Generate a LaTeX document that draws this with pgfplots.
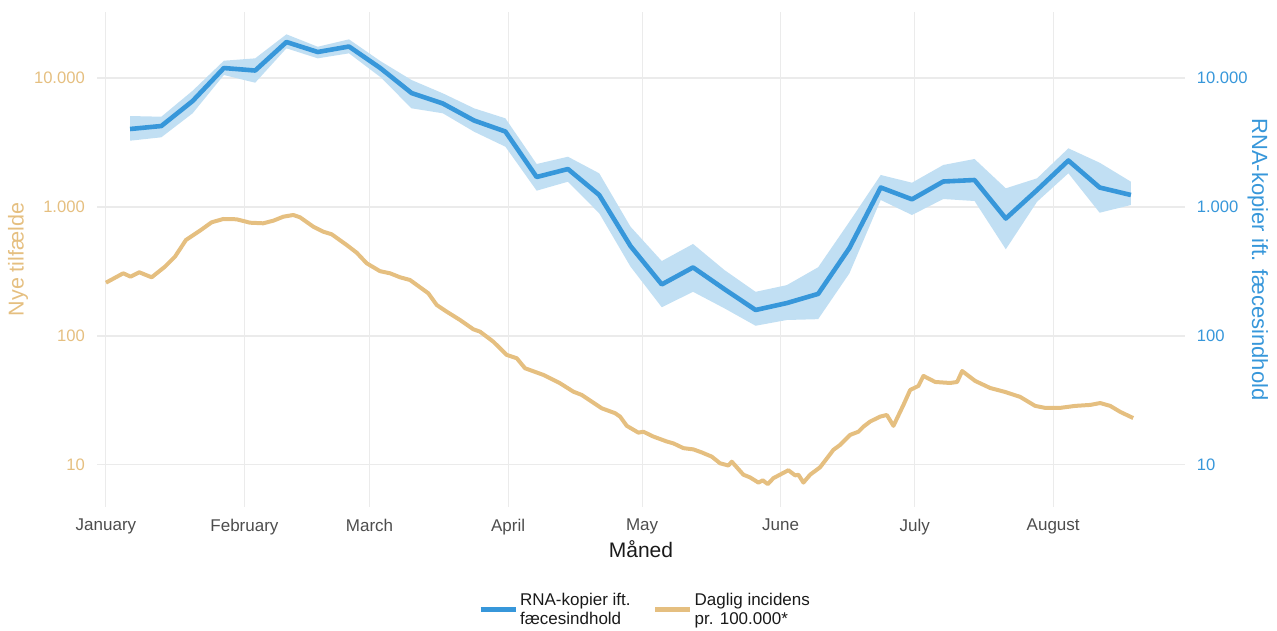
\documentclass[border=0pt]{standalone}
\usepackage{fontspec}
\setmainfont{Liberation Sans}
\usepackage{pgfplots}
\pgfplotsset{compat=1.18}
\usepackage{pgfplotstable}

\definecolor{orangeC}{HTML}{E5BF80}
\definecolor{blueC}{HTML}{3797DA}
\definecolor{bandC}{HTML}{C1DFF3}
\definecolor{gridC}{HTML}{EBEBEB}
\definecolor{tickgray}{HTML}{4D4D4D}
\definecolor{legtext}{HTML}{1A1A1A}

% RNA copies: weekly values
\pgfplotstableread{
day mid
5.4 4024
12.4 4245
19.4 6632
26.4 11952
33.4 11431
40.4 19020
47.4 15910
54.4 17550
61.4 11952
68.4 7650
75.4 6343
82.4 4683
89.4 3848
96.4 1708
103.4 1970
110.4 1239
117.4 498
124.4 251
131.4 340
138.4 231
145.4 159
152.4 180
159.4 212
166.4 481
173.4 1416
180.4 1147
187.4 1576
194.4 1619
201.4 814
208.4 1354
215.4 2293
222.4 1416
229.4 1239
}\rnadata

% band outline: upper bound forward, lower bound backward
\pgfplotstableread{
day band
5.4 5074
12.4 5012
19.4 7973
26.4 13620
33.4 14210
40.4 21820
47.4 17480
54.4 19950
61.4 13550
68.4 9650
75.4 7610
82.4 5823
89.4 4870
96.4 2154
103.4 2454
110.4 1825
117.4 704
124.4 381
131.4 517
138.4 325
145.4 220
152.4 248
159.4 341
166.4 769
173.4 1771
180.4 1543
187.4 2117
194.4 2356
201.4 1396
208.4 1669
215.4 2851
222.4 2205
229.4 1571
229.4 1036
222.4 903
215.4 1825
208.4 1099
201.4 470
194.4 1113
187.4 1153
180.4 867
173.4 1133
166.4 306
159.4 135
152.4 133
145.4 120
138.4 164
131.4 220
124.4 167
117.4 345
110.4 894
103.4 1571
96.4 1338
89.4 2934
82.4 3834
75.4 5326
68.4 5823
61.4 10180
54.4 15540
47.4 14210
40.4 16990
33.4 9197
26.4 10550
19.4 5326
12.4 3470
5.4 3266
}\banddata

\pgfplotstableread{
day val
0 258.9
3.87 306.2
5.53 288.2
7.45 311.8
10.23 285.1
13.21 344.5
15.45 411.8
17.91 554.9
21.04 655.1
23.66 761.0
26.26 807.2
29.26 802.9
32.24 755.6
35.21 747.5
37.45 783.1
39.69 841.0
41.93 867.0
43.43 832.1
46.41 703.7
48.65 643.5
50.53 614.3
53.88 507.4
56.12 442.3
58.36 366.1
61.34 318.0
63.58 306.2
65.82 285.1
68.05 271.7
72.15 214.3
74.03 173.9
76.27 154.3
79.25 133.0
82.23 112.7
83.73 108.0
86.70 90.3
89.70 71.3
91.94 67.2
93.80 56.2
97.90 49.9
101.63 43.0
104.61 37.0
106.49 34.9
110.97 27.5
113.95 25.2
115.07 23.7
116.57 20.1
119.17 17.8
120.28 18.1
122.52 16.6
125.52 15.2
127.0 14.7
129.24 13.5
131.48 13.2
133.36 12.5
135.59 11.6
137.45 10.3
139.31 9.9
140.07 10.6
142.67 8.4
144.17 8.0
146.03 7.3
147.01 7.6
148.13 7.1
149.38 7.9
152.74 9.1
154.24 8.3
154.98 8.4
156.10 7.3
157.60 8.4
159.84 9.6
162.82 13.1
164.32 14.3
166.55 17.1
168.41 18.1
169.53 19.8
171.03 21.7
173.27 23.7
174.77 24.4
176.25 20.1
178.49 29.2
179.99 38.1
181.84 41.0
182.96 49.0
185.58 44.0
188.94 43.2
190.51 44.0
191.63 53.5
194.54 44.8
197.90 39.5
201.25 36.8
204.61 33.7
207.97 28.7
210.21 27.7
213.57 27.7
216.93 28.7
220.28 29.2
222.52 30.2
224.76 28.7
227.0 25.8
229.91 23.1
}\incdata

\begin{document}
\begin{tikzpicture}
\path (-97pt,-123pt) rectangle (1180pt,507pt);
\begin{axis}[
  at={(0pt,0pt)}, anchor=south west,
  scale only axis, width=1088pt, height=495pt,
  xmin=-2, xmax=241.5,
  ymode=log, ymin=4.72, ymax=32500,
  axis line style={draw=none},
  major tick length=0pt, minor tick length=0pt, yminorticks=false,
  xtick={0,31,59,90,120,151,181,212},
  xticklabels={January,February,March,April,May,June,July,August},
  ytick={10,100,1000,10000},
  yticklabels={10,100,1.000,10.000},
  grid=major,
  major grid style={color=gridC, line width=1.1pt},
  xticklabel style={font=\fontsize{17}{20}\selectfont, text=tickgray, anchor=north, inner sep=0pt, yshift=-11.5pt},
  yticklabel style={font=\fontsize{16.6}{19}\selectfont, text=orangeC, anchor=east, inner sep=0pt, xshift=-12pt},
  xlabel={Måned},
  every axis x label/.style={at={(axis description cs:0.5,-0.103)}, anchor=base, font=\fontsize{21}{25}\selectfont, text=legtext},
  ylabel={Nye tilfælde},
  every axis y label/.style={at={(axis description cs:-0.0726,0.5)}, anchor=center, rotate=90, font=\fontsize{21.5}{25}\selectfont, text=orangeC},
  legend style={at={(0.5037,-0.208)}, anchor=center, draw=none, fill=none,
    font=\fontsize{17}{19}\selectfont, text=legtext, cells={align=left},
    /tikz/every even column/.append style={column sep=20pt}},
  legend columns=2,
  legend cell align=left,
  legend image code/.code={\draw[#1] (0pt,0pt) -- (35pt,0pt);},
]
\addplot[fill=bandC, draw=none, forget plot] table[x=day, y=band] {\banddata};
\addplot[orangeC, line width=4pt, line join=round, forget plot] table[x=day, y=val] {\incdata};
\addplot[blueC, line width=4.6pt, line join=round, forget plot] table[x=day, y=mid] {\rnadata};
\addlegendimage{blueC, line width=5pt}
\addlegendentry{RNA-kopier ift.\\fæcesindhold}
\addlegendimage{orangeC, line width=5pt}
\addlegendentry{Daglig incidens\\pr. 100.000*}
\end{axis}
\begin{axis}[
  at={(0pt,0pt)}, anchor=south west,
  scale only axis, width=1088pt, height=495pt,
  xmin=-2, xmax=241.5,
  ymode=log, ymin=4.72, ymax=32500,
  axis line style={draw=none},
  xtick=\empty,
  yticklabel pos=right,
  major tick length=0pt, minor tick length=0pt, yminorticks=false,
  ytick={10,100,1000,10000},
  yticklabels={10,100,1.000,10.000},
  yticklabel style={font=\fontsize{16.6}{19}\selectfont, text=blueC, anchor=west, inner sep=0pt, xshift=11.7pt},
  ylabel={RNA-kopier ift. fæcesindhold},
  every axis y label/.style={at={(axis description cs:1.067,0.5)}, anchor=center, rotate=-90, font=\fontsize{22}{25}\selectfont, text=blueC},
]
\addplot[draw=none] coordinates {(0,10) (200,1000)};
\end{axis}
\end{tikzpicture}
\end{document}
